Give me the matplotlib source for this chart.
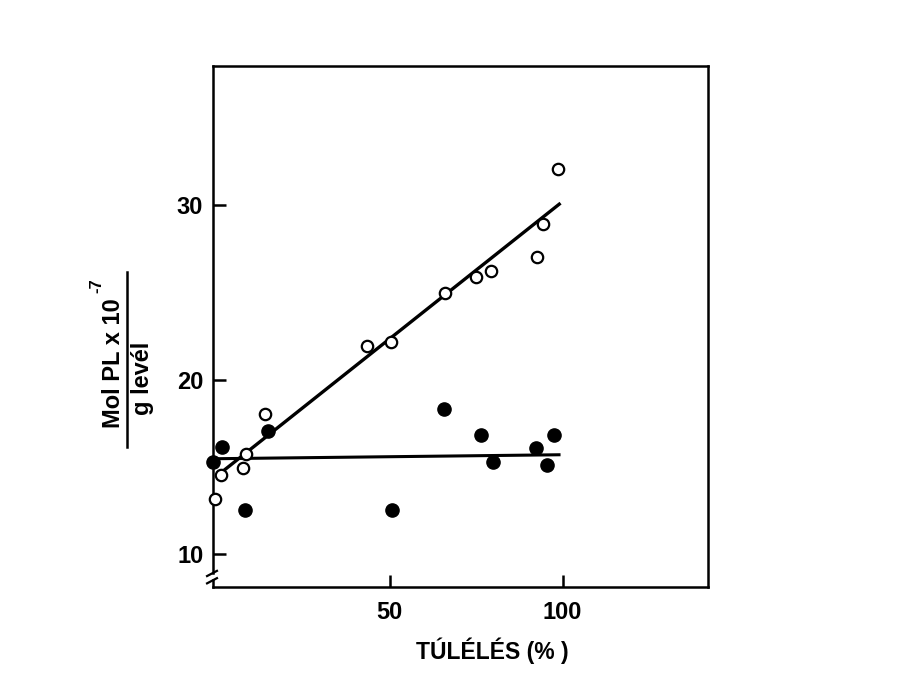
import numpy as np
import matplotlib
matplotlib.use('Agg')
import matplotlib.pyplot as plt
from matplotlib.lines import Line2D

plt.rcParams['font.family'] = ['Liberation Sans', 'DejaVu Sans']

# open circles
open_x = [-0.5, 1.2, 7.6, 8.4, 13.9, 43.6, 50.5, 66.0, 75.1, 79.4, 92.5, 94.3, 98.8]
open_y = [13.17, 14.5, 14.94, 15.74, 18.03, 21.95, 22.18, 24.95, 25.9, 26.24, 27.04, 28.92, 32.07]

# filled circles
full_x = [-1.0, 1.6, 8.1, 14.8, 50.7, 65.7, 76.4, 79.9, 92.4, 95.4, 97.5]
full_y = [15.25, 16.16, 12.5, 17.06, 12.5, 18.3, 16.85, 15.25, 16.07, 15.11, 16.85]

# fitted lines (end points)
open_fit_x = [2.0, 99.4]
open_fit_y = [14.77, 30.13]
full_fit_x = [-1.0, 99.4]
full_fit_y = [15.46, 15.69]

x_ticks = [50, 100]
y_ticks = [10, 20, 30]

W, H = 915, 693
fig = plt.figure(figsize=(W / 100, H / 100), dpi=100)
ax = fig.add_axes([213 / W, 1 - 587 / H, 495 / W, 521 / H])

ax.plot(open_fit_x, open_fit_y, color='black', lw=2.4, solid_capstyle='butt', zorder=2)
ax.plot(full_fit_x, full_fit_y, color='black', lw=2.2, solid_capstyle='butt', zorder=2)
ax.plot(full_x, full_y, 'o', color='black', ms=9.5, zorder=3, clip_on=False)
ax.plot(open_x, open_y, 'o', mfc='white', mec='black', mew=1.6, ms=8.2, zorder=4, clip_on=False)

ax.set_xlim(-1, 142)
ax.set_ylim(8.1, 38)
ax.set_xticks(x_ticks)
ax.set_yticks(y_ticks)
ax.tick_params(direction='in', length=9, width=1.8, labelsize=17, pad=7)
ax.tick_params(axis='x', pad=10)
for lab in ax.get_xticklabels() + ax.get_yticklabels():
    lab.set_fontweight('bold')
for s in ax.spines.values():
    s.set_linewidth(1.8)

# axis break on the y axis
ax.spines['left'].set_bounds(8.9, 38)
ax.plot([0, 0], [0, 0.013], color='black', lw=1.8, transform=ax.transAxes, clip_on=False)
for yb in (0.027, 0.013):
    ax.plot([-0.012, 0.008], [yb - 0.006, yb + 0.004], color='black', lw=1.6,
            transform=ax.transAxes, clip_on=False)

# labels
fig.text(492 / W, 1 - 651 / H, 'TÚLÉLÉS (% )', ha='center', va='center',
         fontsize=16.5, fontweight='bold')
fig.text(114 / W, 1 - 363 / H, 'Mol PL x 10', rotation=90, ha='center', va='center',
         fontsize=17, fontweight='bold')
fig.text(97 / W, 1 - 286 / H, '-7', rotation=90, ha='center', va='center',
         fontsize=12, fontweight='bold')
fig.text(143 / W, 1 - 378 / H, 'g levél', rotation=90, ha='center', va='center',
         fontsize=17, fontweight='bold')
fig.add_artist(Line2D([127 / W, 127 / W], [1 - 272 / H, 1 - 447 / H],
                      color='black', lw=1.8, transform=fig.transFigure))

fig.savefig('out.png', dpi=100)
